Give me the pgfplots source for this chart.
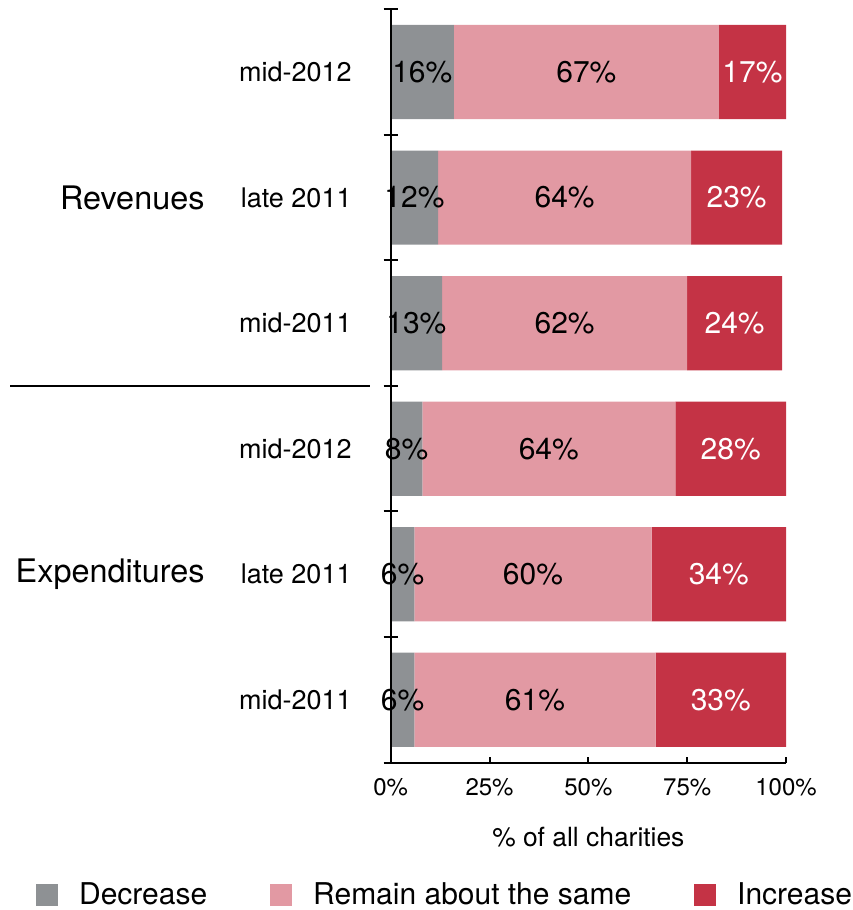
\documentclass[border=0pt]{standalone}
\usepackage{fontspec}
\setmainfont{TeX Gyre Heros}
\usepackage{pgfplots}
\pgfplotsset{compat=1.18}

\definecolor{cDec}{HTML}{8E9194}
\definecolor{cSame}{HTML}{E299A3}
\definecolor{cInc}{HTML}{C43345}

\pgfplotsset{
  base/.style={
    at={(195.35pt,73.7pt)}, anchor=south west,
    scale only axis, width=197.65pt, height=376.65pt,
    xmin=0, xmax=100, ymin=-0.5, ymax=5.5, clip=false,
    axis line style={line width=1pt},
  },
  sqlegend/.style={legend image code/.code={\fill[##1] (0pt,-5.5pt) rectangle (11pt,5.5pt);}},
  seglabel/.style={forget plot, only marks, mark=none, point meta=explicit,
    nodes near coords={\pgfmathprintnumber{\pgfplotspointmeta}\%},
    every node near coord/.style={anchor=center, text=#1, font=\fontsize{15}{18}\selectfont}},
}
\tikzset{
  catlab/.style={anchor=east, inner sep=0pt, font=\fontsize{13.5}{16}\selectfont},
  grplab/.style={anchor=east, inner sep=0pt, font=\fontsize{16.2}{19}\selectfont},
}

\begin{document}
\begin{tikzpicture}
\path[use as bounding box] (0,0) rectangle (426pt,455pt);
\begin{axis}[
    base, axis on top,
    xbar stacked, bar width=0.75,
    axis x line*=bottom, axis y line*=left,
    major tick length=7pt,
    ytick={-0.5,0.5,...,5.5}, yticklabels={}, ytick align=center,
    y tick style={black, line width=1pt},
    xtick=\empty,
    legend columns=3, sqlegend,
    legend style={at={(0.14,-0.176)}, anchor=center, draw=none,
                  font=\fontsize{15}{18}\selectfont, cells={anchor=west},
                  /tikz/every odd column/.append style={column sep=8.5pt},
                  /tikz/every even column/.append style={column sep=29.5pt}},
]
% y = 0..2 Expenditures (mid-2011, late 2011, mid-2012), 3..5 Revenues
\addplot[fill=cDec, draw=none] coordinates {(6,0) (6,1) (8,2) (13,3) (12,4) (16,5)};
\addlegendentry{Decrease}
\addplot[fill=cSame, draw=none] coordinates {(61,0) (60,1) (64,2) (62,3) (64,4) (67,5)};
\addlegendentry{Remain about the same}
\addplot[fill=cInc, draw=none] coordinates {(33,0) (34,1) (28,2) (24,3) (23,4) (17,5)};
\addlegendentry{Increase}

\node[catlab] at (axis cs:-9.8,5) {mid-2012};
\node[catlab] at (axis cs:-9.8,4) {late 2011};
\node[catlab] at (axis cs:-9.8,3) {mid-2011};
\node[catlab] at (axis cs:-9.8,2) {mid-2012};
\node[catlab] at (axis cs:-9.8,1) {late 2011};
\node[catlab] at (axis cs:-9.8,0) {mid-2011};
\node[grplab] at (axis cs:-47,4) {Revenues};
\node[grplab] at (axis cs:-47,1) {Expenditures};
\draw[line width=1pt] (axis cs:-96.3,2.5) -- (axis cs:-5.2,2.5);
\end{axis}

% overlay: x ticks, x label and the segment labels
\begin{axis}[
    base,
    axis x line*=bottom, axis y line=none,
    major tick length=3pt,
    xtick={0,25,50,75,100}, xtick align=inside,
    x tick style={black, line width=1pt},
    xticklabel={\pgfmathprintnumber{\tick}\%},
    xticklabel style={font=\fontsize{12}{14}\selectfont, yshift=-4.5pt},
    /pgf/number format/assume math mode=true,
    xlabel={\% of all charities},
    xlabel style={at={(axis description cs:0.5,0)}, anchor=center, yshift=-37.5pt,
                  font=\fontsize{13.2}{16}\selectfont},
]
\addplot[seglabel=black] coordinates {(3,0) [6] (3,1) [6] (4,2) [8] (6.5,3) [13] (6,4) [12] (8,5) [16]};
\addplot[seglabel=black] coordinates {(36.5,0) [61] (36,1) [60] (40,2) [64] (44,3) [62] (44,4) [64] (49.5,5) [67]};
\addplot[seglabel=white] coordinates {(83.5,0) [33] (83,1) [34] (86,2) [28] (87,3) [24] (87.5,4) [23] (91.5,5) [17]};
\end{axis}
\end{tikzpicture}
\end{document}
